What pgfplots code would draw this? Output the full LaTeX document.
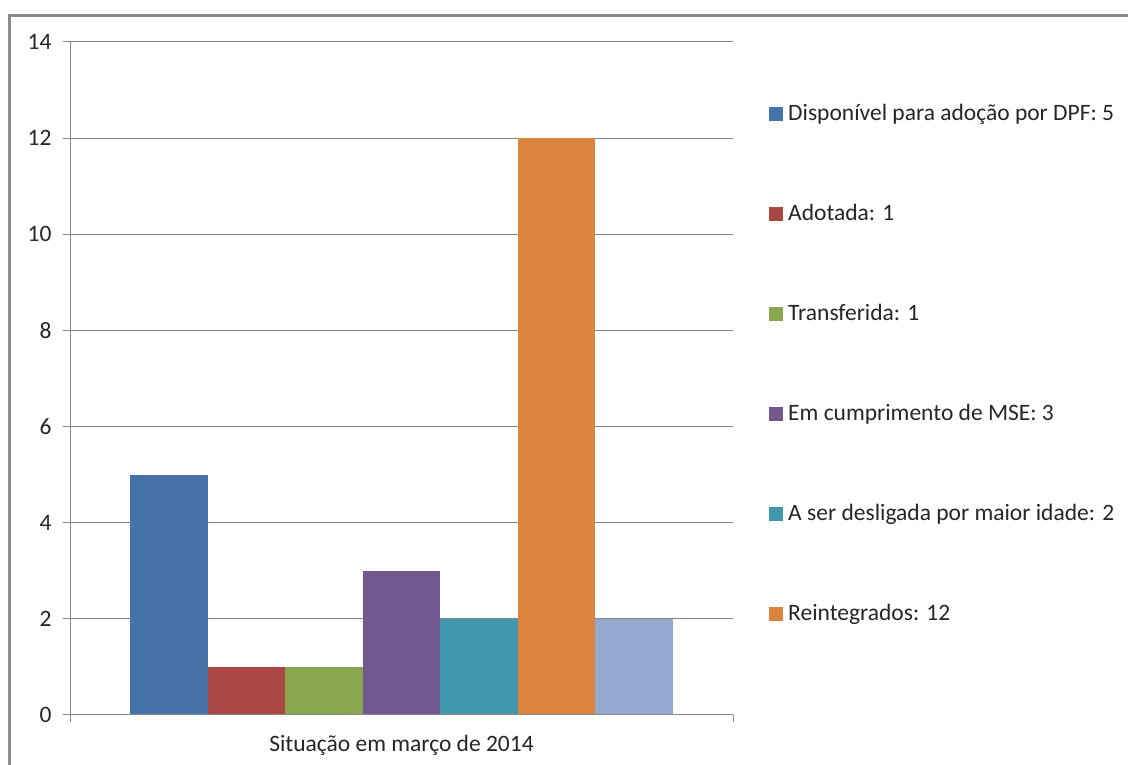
\documentclass[border=0pt]{standalone}
\usepackage{pgfplots}
\pgfplotsset{compat=1.18}
\usepackage{fontspec}
\setmainfont{Carlito}
\definecolor{c1}{HTML}{4572A7}
\definecolor{c2}{HTML}{AA4643}
\definecolor{c3}{HTML}{89A54E}
\definecolor{c4}{HTML}{71588F}
\definecolor{c5}{HTML}{4198AF}
\definecolor{c6}{HTML}{DB843D}
\definecolor{c7}{HTML}{93A9CF}
\definecolor{axgray}{HTML}{868686}
\definecolor{framegray}{HTML}{8C8C8C}
\begin{document}
\begin{tikzpicture}[x=1pt,y=1pt]
\useasboundingbox (0,0) rectangle (1128,765);
\fill[white] (0,0) rectangle (1128,765);
\draw[framegray, line width=2.5pt] (9.5,0) -- (9.5,749.5) -- (1128,749.5);
\begin{axis}[
  at={(70pt,50pt)}, anchor=south west,
  scale only axis, width=663pt, height=673pt,
  font=\fontsize{23.5}{28}\selectfont,
  /pgf/number format/assume math mode=true,
  ybar=0pt, bar width=77.5pt,
  xmin=-1, xmax=1, ymin=0, ymax=14,
  ytick={0,2,...,14},
  xtick={-1,1}, xticklabels={},
  xtick pos=bottom, ytick pos=left,
  axis line style={draw=none},
  tick style={axgray, line width=1pt},
  tick align=outside, major tick length=7pt,
  ymajorgrids, grid style={axgray, line width=1pt},
  yticklabel style={text=black!85, xshift=-8pt},
  xlabel={Situação em março de 2014},
  xlabel style={at={(axis description cs:0.5,0)}, anchor=center, yshift=-30pt, text=black!85},
  area legend,
  legend image code/.code={\fill[#1] (0pt,-5pt) rectangle (14pt,9pt);},
  legend cell align=left,
  legend style={draw=none, fill=none, inner sep=0pt, at={(1.0543,0.519)}, anchor=west,
    row sep=82.4pt, nodes={inner sep=0pt, text=black!85, text height=13pt, text depth=4pt},
    /tikz/every odd column/.append style={column sep=5pt}},
  after end axis/.code={\draw[axgray, line width=1pt] (rel axis cs:0,1) -- (rel axis cs:0,0) -- (rel axis cs:1,0);},
]
\addplot[fill=c1, draw=none] coordinates {(0,5)};
\addplot[fill=c2, draw=none] coordinates {(0,1)};
\addplot[fill=c3, draw=none] coordinates {(0,1)};
\addplot[fill=c4, draw=none] coordinates {(0,3)};
\addplot[fill=c5, draw=none] coordinates {(0,2)};
\addplot[fill=c6, draw=none] coordinates {(0,12)};
\addplot[fill=c7, draw=none] coordinates {(0,2)};
\legend{Disponível para adoção por DPF: 5, Adotada: 1, Transferida: 1, Em cumprimento de MSE: 3, A ser desligada por maior idade: 2, Reintegrados: 12}
\end{axis}
\end{tikzpicture}
\end{document}
